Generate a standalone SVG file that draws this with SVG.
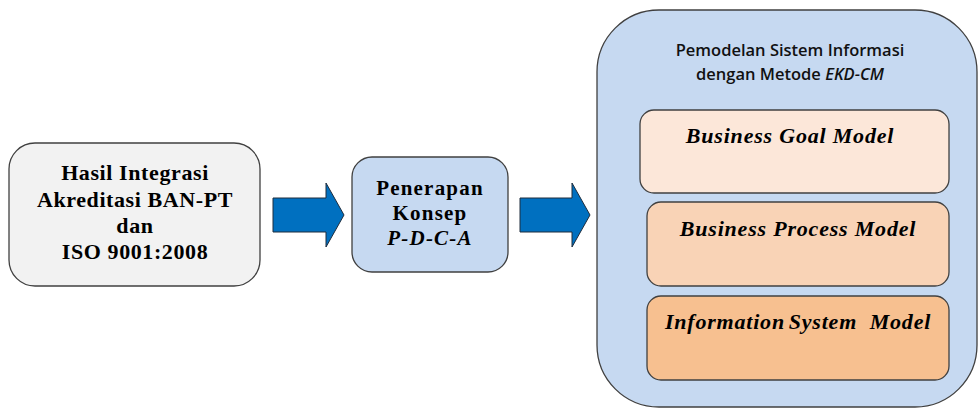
<svg xmlns="http://www.w3.org/2000/svg" width="979" height="410" viewBox="0 0 979 410">
  <style>
    .box { stroke: #404040; stroke-width: 1.3; }
    .serif { font-family: "Liberation Serif", "Times New Roman", serif; font-weight: bold; fill: #000; text-anchor: middle; }
    .sans { font-family: "Open Sans", "Liberation Sans", sans-serif; font-size: 16.5px; font-weight: 600; fill: #111; text-anchor: middle; }
    .model { font-family: "Liberation Serif", "Times New Roman", serif; font-weight: bold; font-style: italic; font-size: 22px; letter-spacing: 0.8px; fill: #000; text-anchor: middle; }
    .flow { fill: #0070c0; stroke: #1f2d3d; stroke-width: 1; }
  </style>
  <rect width="979" height="410" fill="#ffffff"/>

  <g id="hasil-integrasi">
    <rect class="box" x="9" y="143" width="251" height="143" rx="26" fill="#f2f2f2"/>
    <text class="serif" font-size="22" letter-spacing="0.6" x="135" y="180">Hasil Integrasi</text>
    <text class="serif" font-size="22" letter-spacing="0.6" x="135" y="207">Akreditasi BAN-PT</text>
    <text class="serif" font-size="22" letter-spacing="0.6" x="135" y="233">dan</text>
    <text class="serif" font-size="22" letter-spacing="0.6" x="135" y="259">ISO 9001:2008</text>
  </g>

  <g id="penerapan-pdca">
    <rect class="box" x="352" y="157" width="156" height="115" rx="20" fill="#c6d9f1"/>
    <text class="serif" font-size="21" letter-spacing="1.2" x="430" y="195">Penerapan</text>
    <text class="serif" font-size="21" letter-spacing="1.2" x="430" y="220">Konsep</text>
    <text class="serif" font-size="21" letter-spacing="1.2" font-style="italic" x="430" y="245">P-D-C-A</text>
  </g>

  <g id="pemodelan-ekd-cm">
    <rect class="box" x="597" y="10" width="380" height="397" rx="62" fill="#c6d9f1"/>
    <text class="sans" x="790" y="56">Pemodelan Sistem Informasi</text>
    <text class="sans" x="790" y="80">dengan Metode <tspan font-style="italic">EKD-CM</tspan></text>

    <g id="business-goal-model">
      <rect class="box" x="640" y="110" width="309" height="83" rx="14" fill="#fce7d9"/>
      <text class="model" x="790" y="143">Business Goal Model</text>
    </g>
    <g id="business-process-model">
      <rect class="box" x="647" y="202" width="302" height="84" rx="14" fill="#f9d3b6"/>
      <text class="model" letter-spacing="0.6" x="798" y="236">Business Process Model</text>
    </g>
    <g id="information-system-model">
      <rect class="box" x="647" y="296" width="302" height="84" rx="14" fill="#f7c090"/>
      <text class="model" letter-spacing="0.5" x="798" y="329" xml:space="preserve">Information <tspan dx="-2.5">System  Model</tspan></text>
    </g>
  </g>

  <g id="connectors">
    <polygon class="flow" points="273,198 326,198 326,183 344,215 326,247 326,232 273,232"/>
    <polygon class="flow" points="520,198 572,198 572,183 590,215 572,247 572,232 520,232"/>
  </g>
</svg>
